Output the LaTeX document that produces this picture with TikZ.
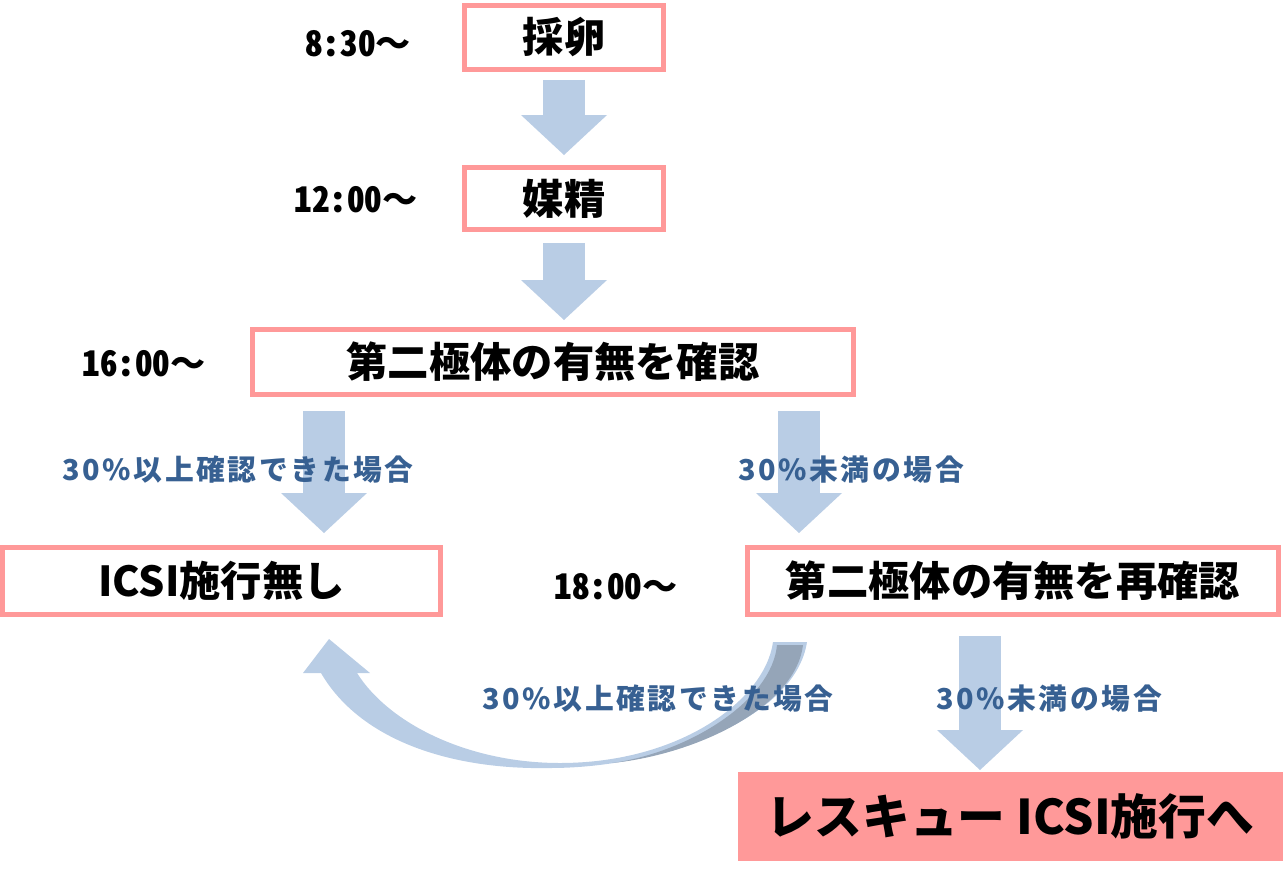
\documentclass[tikz,border=0pt]{standalone}
\usepackage{fontspec}
\setmainfont{Noto Sans CJK JP}
\newfontfamily\timefont[CharacterWidth=Half]{Noto Sans CJK JP}
\newfontfamily\notefont[LetterSpace=9]{Noto Sans CJK JP}
\usetikzlibrary{arrows.meta}
\definecolor{boxpink}{HTML}{FF9999}
\definecolor{arrowblue}{HTML}{B9CDE5}
\definecolor{noteblue}{HTML}{376092}
\definecolor{curldark}{HTML}{95A5B8}
\newcommand\fromtime[1]{{\timefont #1}～}
\tikzset{
  stepbox/.style={draw=boxpink, line width=0.1cm, inner sep=0pt, outer sep=0pt,
    font=\fontsize{23.5}{28}\selectfont\bfseries},
  timelabel/.style={font=\fontsize{20}{24}\selectfont\bfseries},
  note/.style={text=noteblue, font=\notefont\fontsize{16.4}{20}\selectfont\bfseries},
  flow/.style={draw=arrowblue, line width=0.85cm,
    -{Triangle[width=1.72cm,length=0.8cm,line width=0pt]}},
}

\begin{document}
\begin{tikzpicture}[x=0.02cm,y=-0.02cm]
  \useasboundingbox (0,0) rectangle (1283,872);
  % steps
  \node[stepbox, minimum width=3.98cm, minimum height=1.28cm] (egg) at (564,37.5) {採卵};
  \node[stepbox, minimum width=3.98cm, minimum height=1.24cm] (insem) at (564,198.5) {媒精};
  \node[stepbox, minimum width=12.02cm, minimum height=1.30cm] (check) at (553,362) {第二極体の有無を確認};
  \node[stepbox, minimum width=8.76cm, minimum height=1.34cm] (noicsi) at (221.5,581) {ICSI施行無し};
  \node[stepbox, minimum width=10.64cm, minimum height=1.34cm] (recheck) at (1013,581) {第二極体の有無を再確認};
  \node[fill=boxpink, inner sep=0pt, outer sep=0pt, minimum width=10.9cm, minimum height=1.78cm,
    font=\fontsize{27.2}{32}\selectfont\bfseries] (rescue) at (1010.5,816.5) {レスキュー ICSI施行へ};
  % times
  \node[timelabel] (t1) at (358,44) {\fromtime{8:30}};
  \node[timelabel] (t2) at (356,200) {\fromtime{12:00}};
  \node[timelabel] (t3) at (144,364) {\fromtime{16:00}};
  \node[timelabel] (t4) at (616,587) {\fromtime{18:00}};
  % down arrows
  \coordinate (lcol) at (324,0);
  \coordinate (rcol) at (799,0);
  \coordinate (dcol) at (980,0);
  \draw[flow, shorten <=0.21cm, shorten >=0.25cm] (egg) -- (insem);
  \draw[flow, shorten <=0.27cm, shorten >=0.19cm] (insem) -- (insem.south |- check.north);
  \draw[flow, shorten <=0.33cm, shorten >=0.29cm] (check.south -| lcol) -- (noicsi.north -| lcol);
  \draw[flow, shorten <=0.33cm, shorten >=0.29cm] (check.south -| rcol) -- (recheck.north -| rcol);
  \draw[flow, shorten <=0.43cm, shorten >=0.04cm] (recheck.south -| dcol) -- (rescue.north -| dcol);
  % curved arrow back to the left box
  \fill[arrowblue] (807,642) .. controls (795,720) and (660,768) .. (550,768)
    .. controls (450,770) and (360,740) .. (321,673)
    -- (303,673) -- (329,639) -- (370,673) -- (357,673)
    .. controls (390,725) and (470,763) .. (560,763)
    .. controls (680,763) and (765,700) .. (773,642) -- cycle;
  \fill[curldark] (777,645) .. controls (772,700) and (690,752) .. (612,763)
    .. controls (700,754) and (796,705) .. (803,645) -- cycle;
  % conditions
  \node[note] (c1) at (238,470) {30\%以上確認できた場合};
  \node[note] (c2) at (851,470) {30\%未満の場合};
  \node[note] (c3) at (658,699) {30\%以上確認できた場合};
  \node[note] (c4) at (1049,699) {30\%未満の場合};
\end{tikzpicture}
\end{document}
